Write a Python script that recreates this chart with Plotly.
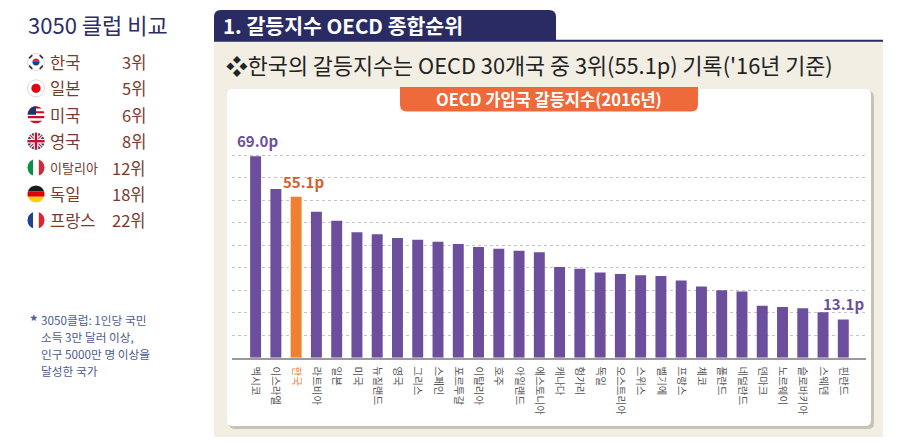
import numpy as np
import plotly.graph_objects as go

W, H = 901, 445
FONT = "Noto Sans CJK KR"

# chart data
countries = ["멕시코", "이스라엘", "한국", "라트비아", "일본", "미국", "뉴질랜드", "영국",
             "그리스", "스페인", "포르투갈", "이탈리아", "호주", "아일랜드", "에스토니아",
             "캐나다", "헝가리", "독일", "오스트리아", "스위스", "벨기에", "프랑스", "체코",
             "폴란드", "네덜란드", "덴마크", "노르웨이", "슬로바키아", "스웨덴", "핀란드"]
values = [69.0, 57.8, 55.1, 50.0, 46.9, 43.0, 42.3, 41.0, 40.4, 39.7, 38.9, 37.9, 37.3,
          36.6, 36.1, 31.1, 30.5, 29.2, 28.7, 28.2, 28.0, 26.4, 24.4, 23.1, 22.7, 17.8,
          17.4, 16.9, 15.6, 13.1]
highlight = "한국"

# 3050 club side list
club_names = ["한국", "일본", "미국", "영국", "이탈리아", "독일", "프랑스"]
club_ranks = ["3위", "5위", "6위", "8위", "12위", "18위", "22위"]
club_flags = ["kr", "jp", "us", "uk", "it", "de", "fr"]

note_lines = ["3050클럽: 1인당 국민", "소득 3만 달러 이상,", "인구 5000만 명 이상을", "달성한 국가"]

PURPLE = "#6b4f9d"
ORANGE = "#f07f2f"
NAVY = "#2b2b63"
BEIGE = "#f2eee3"


def fx(x):
    return x / W


def fy(y):
    return 1 - y / H


def P(x, y):
    return f"{fx(x):.5f},{fy(y):.5f}"


def rrect(x0, y0, x1, y1, r, corners=(1, 1, 1, 1)):
    tl, tr, br, bl = [r * c for c in corners]
    return (f"M {P(x0 + tl, y0)} L {P(x1 - tr, y0)} Q {P(x1, y0)} {P(x1, y0 + tr)} "
            f"L {P(x1, y1 - br)} Q {P(x1, y1)} {P(x1 - br, y1)} "
            f"L {P(x0 + bl, y1)} Q {P(x0, y1)} {P(x0, y1 - bl)} "
            f"L {P(x0, y0 + tl)} Q {P(x0, y0)} {P(x0 + tl, y0)} Z")


shapes = []


def add_path(path, fill, line=None, lw=0):
    shapes.append(dict(type="path", xref="paper", yref="paper", path=path,
                       fillcolor=fill, line=dict(color=line or fill, width=lw), layer="below"))


def circle(cx, cy, r, fill, line=None, lw=0):
    shapes.append(dict(type="circle", xref="paper", yref="paper",
                       x0=fx(cx - r), x1=fx(cx + r), y0=fy(cy + r), y1=fy(cy - r),
                       fillcolor=fill, line=dict(color=line or fill, width=lw), layer="below"))


def seg(x0, y0, x1, y1, color, w):
    shapes.append(dict(type="line", xref="paper", yref="paper",
                       x0=fx(x0), y0=fy(y0), x1=fx(x1), y1=fy(y1),
                       line=dict(color=color, width=w), layer="below"))


def vband(cx, cy, r, a, b, fill):
    xs = np.linspace(a, b, 10)
    top = [(x, cy - np.sqrt(max(r * r - (x - cx) ** 2, 0))) for x in xs]
    bot = [(x, cy + np.sqrt(max(r * r - (x - cx) ** 2, 0))) for x in xs[::-1]]
    pts = top + bot
    add_path("M " + " L ".join(P(*p) for p in pts) + " Z", fill)


def hband(cx, cy, r, a, b, fill):
    ys = np.linspace(a, b, 10)
    left = [(cx - np.sqrt(max(r * r - (y - cy) ** 2, 0)), y) for y in ys]
    right = [(cx + np.sqrt(max(r * r - (y - cy) ** 2, 0)), y) for y in ys[::-1]]
    pts = left + right
    add_path("M " + " L ".join(P(*p) for p in pts) + " Z", fill)


def flag(kind, cx, cy, r=8.5):
    if kind == "kr":
        circle(cx, cy, r, "white", "#d0d0d0", 0.8)
        hband(cx, cy, r * 0.42, cy - r * 0.42, cy, "#cd2e3a")
        hband(cx, cy, r * 0.42, cy, cy + r * 0.42, "#0047a0")
        for sx, sy in [(-1, -1), (1, -1), (1, 1), (-1, 1)]:
            mx, my = cx + sx * r * 0.62, cy + sy * r * 0.62
            seg(mx - sy * 1.6, my + sx * 1.6, mx + sy * 1.6, my - sx * 1.6, "#333", 1.6)
    elif kind == "jp":
        circle(cx, cy, r, "white", "#d0d0d0", 0.8)
        circle(cx, cy, r * 0.55, "#e60012")
    elif kind == "us":
        n = 7
        for i in range(n):
            a = cy - r + 2 * r * i / n
            hband(cx, cy, r, a, a + 2 * r / n, "#c8102e" if i % 2 == 0 else "white")
        xs = np.linspace(cx - r, cx, 8)
        pts = [(x, cy - np.sqrt(max(r * r - (x - cx) ** 2, 0))) for x in xs] + [(cx, cy), (cx - r, cy)]
        add_path("M " + " L ".join(P(*p) for p in pts) + " Z", "#22336b")
    elif kind == "uk":
        circle(cx, cy, r, "#22336b")
        d = r * 0.707
        seg(cx - d, cy - d, cx + d, cy + d, "white", 3.2)
        seg(cx - d, cy + d, cx + d, cy - d, "white", 3.2)
        seg(cx - d, cy - d, cx + d, cy + d, "#c8102e", 1.1)
        seg(cx - d, cy + d, cx + d, cy - d, "#c8102e", 1.1)
        seg(cx - r, cy, cx + r, cy, "white", 4.6)
        seg(cx, cy - r, cx, cy + r, "white", 4.6)
        seg(cx - r, cy, cx + r, cy, "#c8102e", 2.4)
        seg(cx, cy - r, cx, cy + r, "#c8102e", 2.4)
    elif kind in ("it", "fr"):
        cols = ["#0b8f46", "white", "#cf2b37"] if kind == "it" else ["#22408f", "white", "#e1242b"]
        for i, c in enumerate(cols):
            vband(cx, cy, r, cx - r + 2 * r * i / 3, cx - r + 2 * r * (i + 1) / 3, c)
    elif kind == "de":
        for i, c in enumerate(["#1a1a1a", "#dd0000", "#ffce00"]):
            hband(cx, cy, r, cy - r + 2 * r * i / 3, cy - r + 2 * r * (i + 1) / 3, c)


# backgrounds and frames
shapes.append(dict(type="rect", xref="paper", yref="paper", x0=fx(214), x1=fx(883),
                   y0=fy(437), y1=fy(41), fillcolor=BEIGE, line=dict(width=0), layer="below"))
add_path(rrect(229, 91, 874, 429, 6), "rgba(120,115,100,0.35)")
add_path(rrect(227, 89, 871, 426, 6), "white")
add_path(rrect(214, 10, 556, 41, 7, (1, 1, 0, 0)), NAVY)
shapes.append(dict(type="rect", xref="paper", yref="paper", x0=fx(214), x1=fx(883),
                   y0=fy(41.8), y1=fy(39.8), fillcolor=NAVY, line=dict(width=0), layer="below"))
add_path(rrect(400, 87, 698, 111.5, 7, (0, 0, 1, 1)), "#ee6a3b")

row_y = [62, 88.3, 114.8, 141.2, 167.6, 194, 220.3]
for k, yy in zip(club_flags, row_y):
    flag(k, 36, yy)

annotations = []


def text(x, y, s, size, color, anchor="left", bold=False, valign="middle"):
    annotations.append(dict(xref="paper", yref="paper", x=fx(x), y=fy(y), text=f"<b>{s}</b>" if bold else s,
                            showarrow=False, xanchor=anchor, yanchor=valign, align="left",
                            font=dict(family=FONT, size=size, color=color)))


text(26, 24, "3050 클럽 비교", 22, "#2d2d66")
BROWN = "#7a3b2f"
for name, rank, yy in zip(club_names, club_ranks, row_y):
    text(48, yy, name, 13 if len(name) > 3 else 16.5, BROWN)
    text(148, yy, rank, 16.5, BROWN, anchor="right")

NOTE = "#4b5c8f"
text(28, 320, "*", 15, NOTE, bold=True)
for i, line in enumerate(note_lines):
    text(39, 319.5 + i * 17, line, 11.7, NOTE)

text(221, 25, "1. 갈등지수 OECD 종합순위", 20.5, "white", bold=True)
text(224, 64, "❖한국의 갈등지수는 OECD 30개국 중 3위(55.1p) 기록('16년 기준)", 21.8, "#222222")
text(549, 99.5, "OECD 가입국 갈등지수(2016년)", 16.5, "white", anchor="center", bold=True)

# bar value labels
label_spec = {0: (PURPLE, 2), 2: ("#d4602a", 7), 29: (PURPLE, 0)}
for i, (col, xs) in label_spec.items():
    annotations.append(dict(xref="x", yref="y", x=i, y=values[i], text=f"<b>{values[i]:.1f}p</b>",
                            showarrow=False, xanchor="center", yanchor="bottom", xshift=xs, yshift=3,
                            font=dict(family=FONT, size=15, color=col)))

colors = [ORANGE if c == highlight else PURPLE for c in countries]
ticktext = [f"<span style='color:{ORANGE}'>{c}</span>" if c == highlight else c for c in countries]

fig = go.Figure(go.Bar(x=list(range(len(countries))), y=values, marker=dict(color=colors, line=dict(width=0)),
                       hoverinfo="skip"))

YMAX = 77.05
fig.update_layout(
    width=W, height=H, autosize=False,
    margin=dict(l=0, r=0, t=0, b=0),
    paper_bgcolor="white", plot_bgcolor="rgba(0,0,0,0)",
    showlegend=False, bargap=0.46,
    shapes=shapes, annotations=annotations,
    font=dict(family=FONT),
    xaxis=dict(domain=[fx(231.7), fx(866)], range=[-1.18, 30.12], tickmode="array",
               tickvals=list(range(len(countries))), ticktext=ticktext, tickangle=90,
               tickfont=dict(family=FONT, size=10.5, color="#555555"),
               showline=True, linecolor="#9a9a9a", linewidth=1.5, showgrid=False,
               ticks="outside", ticklen=5, tickcolor="rgba(0,0,0,0)", fixedrange=True),
    yaxis=dict(domain=[fy(357.7), fy(132.7)], range=[0, YMAX], tick0=0, dtick=7.7,
               showgrid=True, gridcolor="#c4c4c4", griddash="dot", gridwidth=1,
               showticklabels=False, zeroline=False, showline=False, fixedrange=True),
)

fig.write_html("out.html", config={"displayModeBar": False},
               post_script="document.body.style.margin='0';")
